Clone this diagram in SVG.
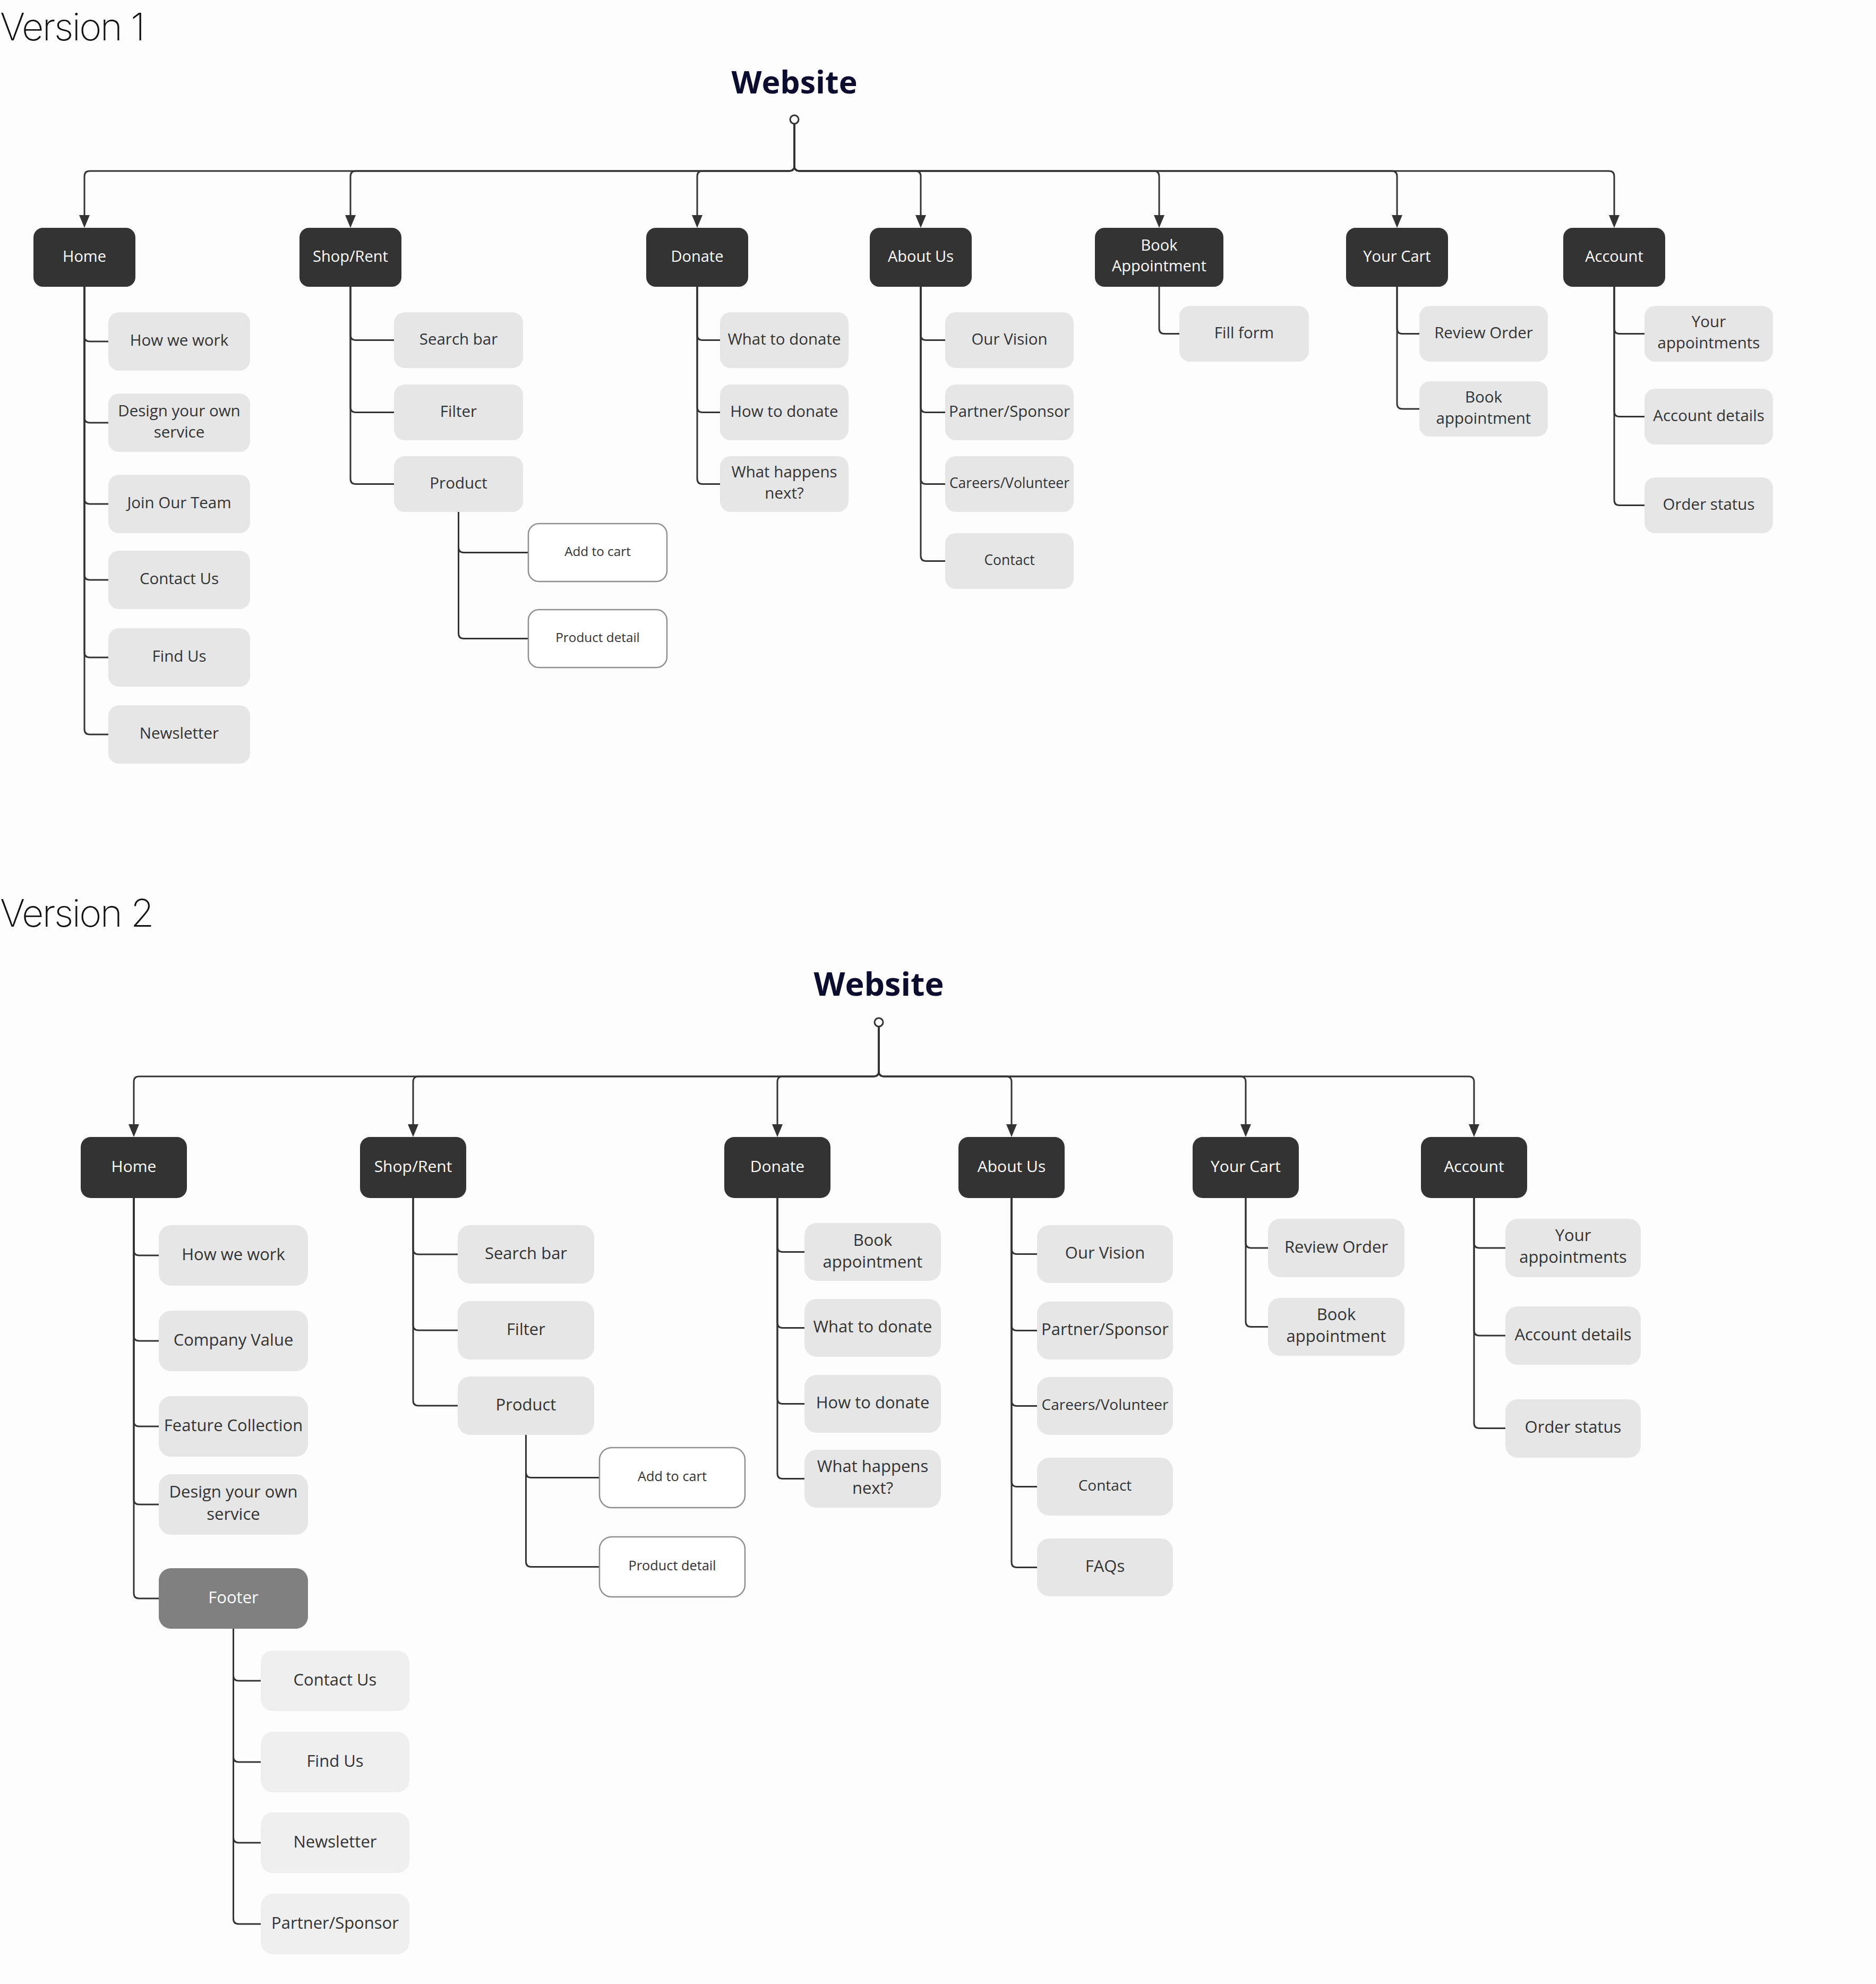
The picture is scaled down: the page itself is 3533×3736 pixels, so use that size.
<svg xmlns="http://www.w3.org/2000/svg" width="3533" height="3736" viewBox="0 0 3533 3736">
<style>
.bg{fill:#fdfdfd}
.dk{fill:#333333}
.lt{fill:#e6e6e6}
.lt2{fill:#efefef}
.ft{fill:#808080}
.wh{fill:#ffffff;stroke:#8f8f8f;stroke-width:2.5}
.c{fill:none;stroke:#333333;stroke-width:3}
.a{marker-end:url(#ah)}
.root{fill:#ffffff;stroke:#333333;stroke-width:3}
text{font-family:"Open Sans","Liberation Sans",sans-serif;text-anchor:middle;fill:#333333}
.w{fill:#ffffff}
.ver{font-family:Inter,"Liberation Sans",sans-serif;font-weight:200;text-anchor:start;fill:#111111;font-size:72px;letter-spacing:-2.6px}
.ttl{font-weight:700;fill:#0c0c2e}
.s1{font-size:29.5px}
.s2{font-size:31px}
.d1{font-size:29px}
.d2{font-size:30px}
.m1{font-size:24.3px}
.m2{font-size:25.3px}
.x1{font-size:26.5px}
.x2{font-size:28px}
.up{transform:translate(0px,-2px)}
</style>
<defs>
<marker id="ah" viewBox="0 -10 24 20" refX="0" refY="0" markerWidth="24" markerHeight="20" markerUnits="userSpaceOnUse" orient="auto">
<path d="M0,-10 L24,0 L0,10 Z" fill="#333333"/>
</marker>
</defs>
<rect class="bg" x="0" y="0" width="3533" height="3736"/>

<text class="ver" x="0" y="76">Version 1</text>
<text class="ver" x="0" y="1745">Version 2</text>

<!-- ================= VERSION 1 CONNECTORS ================= -->
<g id="connectors-v1">
<path class="c a" d="M1496,233 V312 Q1496,322 1486,322 H169 Q159,322 159,332 V405"/>
<path class="c a" d="M1496,233 V312 Q1496,322 1486,322 H670 Q660,322 660,332 V405"/>
<path class="c a" d="M1496,233 V312 Q1496,322 1486,322 H1323 Q1313,322 1313,332 V405"/>
<path class="c a" d="M1496,233 V312 Q1496,322 1506,322 H1724 Q1734,322 1734,332 V405"/>
<path class="c a" d="M1496,233 V312 Q1496,322 1506,322 H2173 Q2183,322 2183,332 V405"/>
<path class="c a" d="M1496,233 V312 Q1496,322 1506,322 H2621 Q2631,322 2631,332 V405"/>
<path class="c a" d="M1496,233 V312 Q1496,322 1506,322 H3030 Q3040,322 3040,332 V405"/>
<!-- Home -->
<path class="c" d="M159,540 V633 Q159,643 169,643 H204"/>
<path class="c" d="M159,540 V786 Q159,796 169,796 H204"/>
<path class="c" d="M159,540 V939 Q159,949 169,949 H204"/>
<path class="c" d="M159,540 V1082 Q159,1092 169,1092 H204"/>
<path class="c" d="M159,540 V1228 Q159,1238 169,1238 H204"/>
<path class="c" d="M159,540 V1373 Q159,1383 169,1383 H204"/>
<!-- Shop -->
<path class="c" d="M660,540 V630.5 Q660,640.5 670,640.5 H742"/>
<path class="c" d="M660,540 V766.5 Q660,776.5 670,776.5 H742"/>
<path class="c" d="M660,540 V901.5 Q660,911.5 670,911.5 H742"/>
<path class="c" d="M863.5,964 V1030.5 Q863.5,1040.5 873.5,1040.5 H995"/>
<path class="c" d="M863.5,964 V1192.5 Q863.5,1202.5 873.5,1202.5 H995"/>
<!-- Donate -->
<path class="c" d="M1313,540 V630.5 Q1313,640.5 1323,640.5 H1356"/>
<path class="c" d="M1313,540 V766.5 Q1313,776.5 1323,776.5 H1356"/>
<path class="c" d="M1313,540 V901.5 Q1313,911.5 1323,911.5 H1356"/>
<!-- About -->
<path class="c" d="M1734,540 V630.5 Q1734,640.5 1744,640.5 H1780"/>
<path class="c" d="M1734,540 V766.5 Q1734,776.5 1744,776.5 H1780"/>
<path class="c" d="M1734,540 V901.5 Q1734,911.5 1744,911.5 H1780"/>
<path class="c" d="M1734,540 V1046.5 Q1734,1056.5 1744,1056.5 H1780"/>
<!-- Book -->
<path class="c" d="M2183,540 V618.5 Q2183,628.5 2193,628.5 H2221"/>
<!-- Cart -->
<path class="c" d="M2631,540 V618.5 Q2631,628.5 2641,628.5 H2673"/>
<path class="c" d="M2631,540 V760 Q2631,770 2641,770 H2673"/>
<!-- Account -->
<path class="c" d="M3040,540 V618.5 Q3040,628.5 3050,628.5 H3097"/>
<path class="c" d="M3040,540 V774.5 Q3040,784.5 3050,784.5 H3097"/>
<path class="c" d="M3040,540 V941.5 Q3040,951.5 3050,951.5 H3097"/>
</g>

<!-- ================= VERSION 1 NODES ================= -->
<g id="v1-website"><text class="ttl" x="1496" y="176" style="font-size:59px">Website</text><circle class="root" cx="1496" cy="225" r="8"/></g>

<g id="v1-home"><rect class="dk" x="63" y="429" width="192" height="111" rx="18"/><text class="w d1 up" x="159" y="495">Home</text></g>
<g id="v1-shop"><rect class="dk" x="564" y="429" width="192" height="111" rx="18"/><text class="w d1 up" x="660" y="495">Shop/Rent</text></g>
<g id="v1-donate"><rect class="dk" x="1217" y="429" width="192" height="111" rx="18"/><text class="w d1 up" x="1313" y="495">Donate</text></g>
<g id="v1-about"><rect class="dk" x="1638" y="429" width="192" height="111" rx="18"/><text class="w d1 up" x="1734" y="495">About Us</text></g>
<g id="v1-book"><rect class="dk" x="2062" y="429" width="242" height="111" rx="18"/><text class="w d1" x="2183" y="472">Book</text><text class="w d1" x="2183" y="511">Appointment</text></g>
<g id="v1-cart"><rect class="dk" x="2535" y="429" width="192" height="111" rx="18"/><text class="w d1 up" x="2631" y="495">Your Cart</text></g>
<g id="v1-account"><rect class="dk" x="2944" y="429" width="192" height="111" rx="18"/><text class="w d1 up" x="3040" y="495">Account</text></g>

<g id="v1-how-we-work"><rect class="lt" x="204" y="588" width="267" height="110" rx="20"/><text class="s1 up" x="337.5" y="653">How we work</text></g>
<g id="v1-design"><rect class="lt" x="204" y="741" width="267" height="110" rx="20"/><text class="s1" x="337.5" y="783.5">Design your own</text><text class="s1" x="337.5" y="823.5">service</text></g>
<g id="v1-join"><rect class="lt" x="204" y="894" width="267" height="110" rx="20"/><text class="s1 up" x="337.5" y="959">Join Our Team</text></g>
<g id="v1-contact-us"><rect class="lt" x="204" y="1037" width="267" height="110" rx="20"/><text class="s1 up" x="337.5" y="1102">Contact Us</text></g>
<g id="v1-find-us"><rect class="lt" x="204" y="1183" width="267" height="110" rx="20"/><text class="s1 up" x="337.5" y="1248">Find Us</text></g>
<g id="v1-newsletter"><rect class="lt" x="204" y="1328" width="267" height="110" rx="20"/><text class="s1 up" x="337.5" y="1393">Newsletter</text></g>

<g id="v1-search"><rect class="lt" x="742" y="588" width="243" height="105" rx="20"/><text class="s1 up" x="863.5" y="651">Search bar</text></g>
<g id="v1-filter"><rect class="lt" x="742" y="724" width="243" height="105" rx="20"/><text class="s1 up" x="863.5" y="787">Filter</text></g>
<g id="v1-product"><rect class="lt" x="742" y="859" width="243" height="105" rx="20"/><text class="s1 up" x="863.5" y="922">Product</text></g>
<g id="v1-add-to-cart"><rect class="wh" x="995" y="986" width="261" height="109" rx="20"/><text class="m1 up" x="1125.5" y="1049">Add to cart</text></g>
<g id="v1-product-detail"><rect class="wh" x="995" y="1148" width="261" height="109" rx="20"/><text class="m1 up" x="1125.5" y="1211">Product detail</text></g>

<g id="v1-what-to-donate"><rect class="lt" x="1356" y="588" width="242" height="105" rx="20"/><text class="s1 up" x="1477" y="651">What to donate</text></g>
<g id="v1-how-to-donate"><rect class="lt" x="1356" y="724" width="242" height="105" rx="20"/><text class="s1 up" x="1477" y="787">How to donate</text></g>
<g id="v1-what-next"><rect class="lt" x="1356" y="859" width="242" height="105" rx="20"/><text class="s1" x="1477" y="899">What happens</text><text class="s1" x="1477" y="939">next?</text></g>

<g id="v1-vision"><rect class="lt" x="1780" y="588" width="242" height="105" rx="20"/><text class="s1 up" x="1901" y="651">Our Vision</text></g>
<g id="v1-partner"><rect class="lt" x="1780" y="724" width="242" height="105" rx="20"/><text class="s1 up" x="1901" y="787">Partner/Sponsor</text></g>
<g id="v1-careers"><rect class="lt" x="1780" y="859" width="242" height="105" rx="20"/><text class="x1 up" x="1901" y="921">Careers/Volunteer</text></g>
<g id="v1-contact"><rect class="lt" x="1780" y="1004" width="242" height="105" rx="20"/><text class="x1 up" x="1901" y="1066">Contact</text></g>

<g id="v1-fill-form"><rect class="lt" x="2221" y="576" width="244" height="105" rx="20"/><text class="s1 up" x="2343" y="639">Fill form</text></g>

<g id="v1-review"><rect class="lt" x="2673" y="576" width="242" height="105" rx="20"/><text class="s1 up" x="2794" y="639">Review Order</text></g>
<g id="v1-book-appt"><rect class="lt" x="2673" y="718" width="242" height="104" rx="20"/><text class="s1" x="2794" y="757.5">Book</text><text class="s1" x="2794" y="797.5">appointment</text></g>

<g id="v1-your-appts"><rect class="lt" x="3097" y="576" width="242" height="105" rx="20"/><text class="s1" x="3218" y="616">Your</text><text class="s1" x="3218" y="656">appointments</text></g>
<g id="v1-account-details"><rect class="lt" x="3097" y="732" width="242" height="105" rx="20"/><text class="s1 up" x="3218" y="795">Account details</text></g>
<g id="v1-order-status"><rect class="lt" x="3097" y="899" width="242" height="105" rx="20"/><text class="s1 up" x="3218" y="962">Order status</text></g>

<!-- ================= VERSION 2 CONNECTORS ================= -->
<g id="connectors-v2">
<path class="c a" d="M1655,1933 V2017 Q1655,2027 1645,2027 H262 Q252,2027 252,2037 V2117"/>
<path class="c a" d="M1655,1933 V2017 Q1655,2027 1645,2027 H788 Q778,2027 778,2037 V2117"/>
<path class="c a" d="M1655,1933 V2017 Q1655,2027 1645,2027 H1474 Q1464,2027 1464,2037 V2117"/>
<path class="c a" d="M1655,1933 V2017 Q1655,2027 1665,2027 H1895 Q1905,2027 1905,2037 V2117"/>
<path class="c a" d="M1655,1933 V2017 Q1655,2027 1665,2027 H2336 Q2346,2027 2346,2037 V2117"/>
<path class="c a" d="M1655,1933 V2017 Q1655,2027 1665,2027 H2766 Q2776,2027 2776,2037 V2117"/>
<!-- Home -->
<path class="c" d="M252,2256 V2354 Q252,2364 262,2364 H299"/>
<path class="c" d="M252,2256 V2515 Q252,2525 262,2525 H299"/>
<path class="c" d="M252,2256 V2676 Q252,2686 262,2686 H299"/>
<path class="c" d="M252,2256 V2823 Q252,2833 262,2833 H299"/>
<path class="c" d="M252,2256 V3000 Q252,3010 262,3010 H299"/>
<!-- Footer -->
<path class="c" d="M439.5,3067 V3155 Q439.5,3165 449.5,3165 H491"/>
<path class="c" d="M439.5,3067 V3308 Q439.5,3318 449.5,3318 H491"/>
<path class="c" d="M439.5,3067 V3460 Q439.5,3470 449.5,3470 H491"/>
<path class="c" d="M439.5,3067 V3613 Q439.5,3623 449.5,3623 H491"/>
<!-- Shop -->
<path class="c" d="M778,2256 V2352 Q778,2362 788,2362 H862"/>
<path class="c" d="M778,2256 V2495 Q778,2505 788,2505 H862"/>
<path class="c" d="M778,2256 V2637 Q778,2647 788,2647 H862"/>
<path class="c" d="M990.5,2702 V2772.5 Q990.5,2782.5 1000.5,2782.5 H1129"/>
<path class="c" d="M990.5,2702 V2940.5 Q990.5,2950.5 1000.5,2950.5 H1129"/>
<!-- Donate -->
<path class="c" d="M1464,2256 V2347.5 Q1464,2357.5 1474,2357.5 H1515"/>
<path class="c" d="M1464,2256 V2490.5 Q1464,2500.5 1474,2500.5 H1515"/>
<path class="c" d="M1464,2256 V2633.5 Q1464,2643.5 1474,2643.5 H1515"/>
<path class="c" d="M1464,2256 V2774.5 Q1464,2784.5 1474,2784.5 H1515"/>
<!-- About -->
<path class="c" d="M1905,2256 V2351.5 Q1905,2361.5 1915,2361.5 H1953"/>
<path class="c" d="M1905,2256 V2495.5 Q1905,2505.5 1915,2505.5 H1953"/>
<path class="c" d="M1905,2256 V2637.5 Q1905,2647.5 1915,2647.5 H1953"/>
<path class="c" d="M1905,2256 V2789.5 Q1905,2799.5 1915,2799.5 H1953"/>
<path class="c" d="M1905,2256 V2941.5 Q1905,2951.5 1915,2951.5 H1953"/>
<!-- Cart -->
<path class="c" d="M2346,2256 V2340 Q2346,2350 2356,2350 H2388"/>
<path class="c" d="M2346,2256 V2488.5 Q2346,2498.5 2356,2498.5 H2388"/>
<!-- Account -->
<path class="c" d="M2776,2256 V2340 Q2776,2350 2786,2350 H2835"/>
<path class="c" d="M2776,2256 V2505 Q2776,2515 2786,2515 H2835"/>
<path class="c" d="M2776,2256 V2679.5 Q2776,2689.5 2786,2689.5 H2835"/>
</g>

<!-- ================= VERSION 2 NODES ================= -->
<g id="v2-website"><text class="ttl" x="1655" y="1875" style="font-size:61px">Website</text><circle class="root" cx="1655" cy="1925" r="8"/></g>

<g id="v2-home"><rect class="dk" x="152" y="2141" width="200" height="115" rx="19"/><text class="w d2 up" x="252" y="2209">Home</text></g>
<g id="v2-shop"><rect class="dk" x="678" y="2141" width="200" height="115" rx="19"/><text class="w d2 up" x="778" y="2209">Shop/Rent</text></g>
<g id="v2-donate"><rect class="dk" x="1364" y="2141" width="200" height="115" rx="19"/><text class="w d2 up" x="1464" y="2209">Donate</text></g>
<g id="v2-about"><rect class="dk" x="1805" y="2141" width="200" height="115" rx="19"/><text class="w d2 up" x="1905" y="2209">About Us</text></g>
<g id="v2-cart"><rect class="dk" x="2246" y="2141" width="200" height="115" rx="19"/><text class="w d2 up" x="2346" y="2209">Your Cart</text></g>
<g id="v2-account"><rect class="dk" x="2676" y="2141" width="200" height="115" rx="19"/><text class="w d2 up" x="2776" y="2209">Account</text></g>

<g id="v2-how-we-work"><rect class="lt" x="299" y="2307" width="281" height="114" rx="23"/><text class="s2 up" x="439.5" y="2375">How we work</text></g>
<g id="v2-company-value"><rect class="lt" x="299" y="2468" width="281" height="114" rx="23"/><text class="s2 up" x="439.5" y="2536">Company Value</text></g>
<g id="v2-feature"><rect class="lt" x="299" y="2629" width="281" height="114" rx="23"/><text class="s2 up" x="439.5" y="2697">Feature Collection</text></g>
<g id="v2-design"><rect class="lt" x="299" y="2776" width="281" height="114" rx="23"/><text class="s2" x="439.5" y="2820">Design your own</text><text class="s2" x="439.5" y="2862">service</text></g>
<g id="v2-footer"><rect class="ft" x="299" y="2953" width="281" height="114" rx="23"/><text class="w s2 up" x="439.5" y="3021">Footer</text></g>

<g id="v2-contact-us"><rect class="lt2" x="491" y="3108" width="280" height="114" rx="23"/><text class="s2 up" x="631" y="3176">Contact Us</text></g>
<g id="v2-find-us"><rect class="lt2" x="491" y="3261" width="280" height="114" rx="23"/><text class="s2 up" x="631" y="3329">Find Us</text></g>
<g id="v2-newsletter"><rect class="lt2" x="491" y="3413" width="280" height="114" rx="23"/><text class="s2 up" x="631" y="3481">Newsletter</text></g>
<g id="v2-footer-partner"><rect class="lt2" x="491" y="3566" width="280" height="114" rx="23"/><text class="s2 up" x="631" y="3634">Partner/Sponsor</text></g>

<g id="v2-search"><rect class="lt" x="862" y="2307" width="257" height="110" rx="23"/><text class="s2 up" x="990.5" y="2373">Search bar</text></g>
<g id="v2-filter"><rect class="lt" x="862" y="2450" width="257" height="110" rx="23"/><text class="s2 up" x="990.5" y="2516">Filter</text></g>
<g id="v2-product"><rect class="lt" x="862" y="2592" width="257" height="110" rx="23"/><text class="s2 up" x="990.5" y="2658">Product</text></g>
<g id="v2-add-to-cart"><rect class="wh" x="1129" y="2726" width="274" height="113" rx="23"/><text class="m2 up" x="1266" y="2791">Add to cart</text></g>
<g id="v2-product-detail"><rect class="wh" x="1129" y="2894" width="274" height="113" rx="23"/><text class="m2 up" x="1266" y="2959">Product detail</text></g>

<g id="v2-book-appt-donate"><rect class="lt" x="1515" y="2303" width="257" height="109" rx="23"/><text class="s2" x="1643.5" y="2346">Book</text><text class="s2" x="1643.5" y="2387">appointment</text></g>
<g id="v2-what-to-donate"><rect class="lt" x="1515" y="2446" width="257" height="109" rx="23"/><text class="s2 up" x="1643.5" y="2511">What to donate</text></g>
<g id="v2-how-to-donate"><rect class="lt" x="1515" y="2589" width="257" height="109" rx="23"/><text class="s2 up" x="1643.5" y="2654">How to donate</text></g>
<g id="v2-what-next"><rect class="lt" x="1515" y="2730" width="257" height="109" rx="23"/><text class="s2" x="1643.5" y="2772">What happens</text><text class="s2" x="1643.5" y="2813">next?</text></g>

<g id="v2-vision"><rect class="lt" x="1953" y="2307" width="256" height="109" rx="23"/><text class="s2 up" x="2081" y="2372">Our Vision</text></g>
<g id="v2-partner"><rect class="lt" x="1953" y="2451" width="256" height="109" rx="23"/><text class="s2 up" x="2081" y="2516">Partner/Sponsor</text></g>
<g id="v2-careers"><rect class="lt" x="1953" y="2593" width="256" height="109" rx="23"/><text class="x2 up" x="2081" y="2657">Careers/Volunteer</text></g>
<g id="v2-contact"><rect class="lt" x="1953" y="2745" width="256" height="109" rx="23"/><text class="x2 up" x="2081" y="2809">Contact</text></g>
<g id="v2-faqs"><rect class="lt" x="1953" y="2897" width="256" height="109" rx="23"/><text class="s2 up" x="2081" y="2962">FAQs</text></g>

<g id="v2-review"><rect class="lt" x="2388" y="2295" width="257" height="110" rx="23"/><text class="s2 up" x="2516.5" y="2361">Review Order</text></g>
<g id="v2-book-appt"><rect class="lt" x="2388" y="2444" width="257" height="109" rx="23"/><text class="s2" x="2516.5" y="2486">Book</text><text class="s2" x="2516.5" y="2527">appointment</text></g>

<g id="v2-your-appts"><rect class="lt" x="2835" y="2295" width="255" height="110" rx="23"/><text class="s2" x="2962.5" y="2337">Your</text><text class="s2" x="2962.5" y="2378">appointments</text></g>
<g id="v2-account-details"><rect class="lt" x="2835" y="2460" width="255" height="110" rx="23"/><text class="s2 up" x="2962.5" y="2526">Account details</text></g>
<g id="v2-order-status"><rect class="lt" x="2835" y="2635" width="255" height="110" rx="23"/><text class="s2 up" x="2962.5" y="2700">Order status</text></g>
</svg>
